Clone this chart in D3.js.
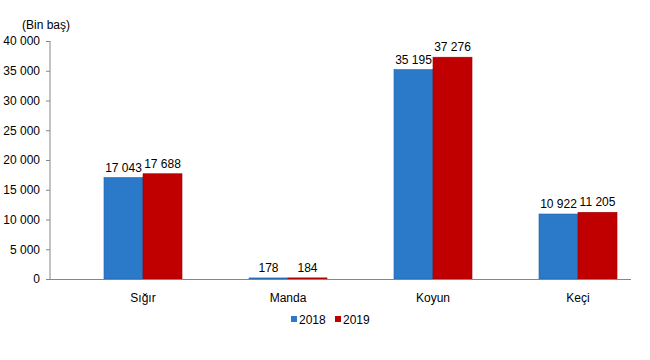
<!DOCTYPE html>
<html><head><meta charset="utf-8">
<script src="https://cdn.jsdelivr.net/npm/d3@7/dist/d3.min.js"></script>
<style>body{margin:0;background:#fff}svg{display:block}text{font-family:"Liberation Sans",Arial,sans-serif;fill:#000}</style>
</head><body>
<svg id="c" width="650" height="360"></svg>
<script>
const categories = ["Sığır","Manda","Koyun","Keçi"];
const seriesNames = ["2018","2019"];
const values2018 = [17043,178,35195,10922];
const values2019 = [17688,184,37276,11205];
const yTicks = [0,5000,10000,15000,20000,25000,30000,35000,40000];
const colors = ["#2a7ac9","#c00000"];

const fmt = v => { const s = String(v); return s.length>3 ? s.slice(0,-3)+" "+s.slice(-3) : s; };
const svg = d3.select("#c");
const y = d3.scaleLinear().domain([0,40000]).range([279,41]);
const x = d3.scaleBand().domain(categories).range([70.5,650.5]).paddingInner(0.462).paddingOuter(0.231);
const x1 = d3.scaleBand().domain(seriesNames).range([0,x.bandwidth()]);

// y axis
const ya = svg.append("g").attr("transform","translate(50,0)")
  .call(d3.axisLeft(y).tickValues(yTicks).tickSize(4).tickPadding(6).tickFormat(fmt));
ya.select(".domain").attr("stroke","#868686").attr("d","M0,41V279");
ya.selectAll(".tick line").attr("stroke","#868686");
ya.selectAll(".tick text").attr("font-size","12px").attr("font-family","Liberation Sans, Arial, sans-serif").attr("fill","#000");

svg.append("text").attr("x",22).attr("y",29).attr("font-size","12px").text("(Bin baş)");

const data = categories.map((c,i)=>({c, vals:[values2018[i],values2019[i]]}));
const g = svg.append("g");
data.forEach(d=>{
  d.vals.forEach((v,j)=>{
    const bx = x(d.c)+x1(seriesNames[j]);
    g.append("rect").attr("x",bx).attr("y",y(v)).attr("width",x1.bandwidth()).attr("height",y(0)-y(v))
      .attr("fill",colors[j]).attr("stroke",d3.color(colors[j]).darker(0.6)).attr("stroke-width",0.6);
    g.append("text").attr("x",bx+x1.bandwidth()/2).attr("y",y(v)-6).attr("text-anchor","middle")
      .attr("font-size","12px").text(fmt(v));
  });
});

// x axis
svg.append("line").attr("x1",50).attr("x2",631).attr("y1",279.5).attr("y2",279.5).attr("stroke","#868686");
categories.forEach(c=>{
  svg.append("text").attr("x",x(c)+x.bandwidth()/2).attr("y",302).attr("text-anchor","middle").attr("font-size","12px").text(c);
});

// legend
const lg = svg.append("g").attr("transform","translate(291,316)");
seriesNames.forEach((s,i)=>{
  const gx = i*44;
  lg.append("rect").attr("x",gx).attr("y",0).attr("width",6).attr("height",6).attr("fill",colors[i]);
  lg.append("text").attr("x",gx+8).attr("y",7.5).attr("font-size","12px").text(s);
});
</script>
</body></html>
